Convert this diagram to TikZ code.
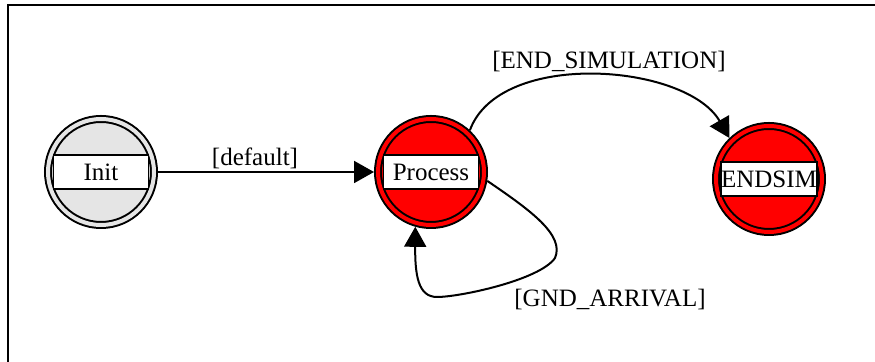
\documentclass[tikz,border=0pt]{standalone}
\usepackage{fontspec}
\setmainfont{Liberation Serif}
\usetikzlibrary{arrows.meta}

\begin{document}
\begin{tikzpicture}[x=.5pt,y=-.5pt,
  state/.style={circle,draw,line width=1pt,double distance=2pt,minimum size=53pt,inner sep=0pt,outer sep=2pt},
  redstate/.style={state,fill=red,double=red},
  graystate/.style={state,fill=gray!20,double=gray!20},
  namebox/.style={draw,fill=white,line width=.9pt,minimum width=47.5pt,minimum height=17pt,inner sep=0pt,font=\fontsize{12.5}{14}\selectfont},
  edge/.style={line width=1pt,-{Triangle[length=10pt,width=11pt]}},
  lbl/.style={font=\fontsize{12.5}{14}\selectfont,inner sep=0pt}]
\path[use as bounding box] (0,0) rectangle (875,362);
\draw[line width=1pt] (7.5,362) |- (875,5);
% states
\node[graystate] (init) at (101,172) {};
\node[namebox] (initbox) at (init) {Init};
\node[redstate] (process) at (431,172) {};
\node[namebox] (processbox) at (process) {Process};
\node[redstate] (endsim) at (769,179) {};
\node[namebox] (endsimbox) at (endsim) {ENDSIM};
% transitions
\draw[edge] (init) -- (process);
\node[lbl] (deflbl) at (255,158) {[default]};
\draw[edge] (process.47) to[out=70,in=120,looseness=.85] (endsim.134);
\node[lbl] (endlbl) at (609,62) {[END\_SIMULATION]};
\draw[edge] (process.-9) .. controls (530,210) and (565,235) .. (555,258)
  .. controls (540,280) and (460,297) .. (437,297)
  .. controls (418,297) and (415,275) .. (process.-106);
\node[lbl] (gndlbl) at (610,300) {[GND\_ARRIVAL]};
\end{tikzpicture}
\end{document}
